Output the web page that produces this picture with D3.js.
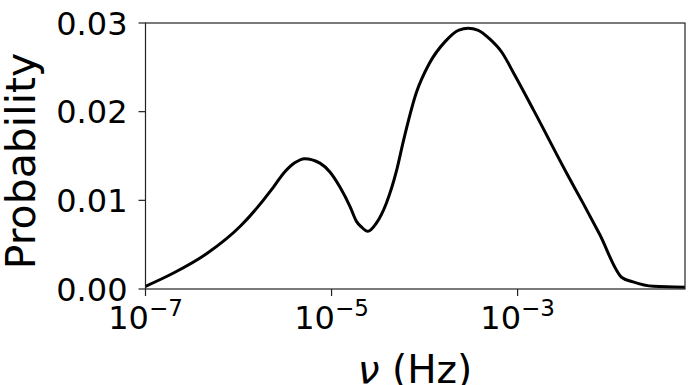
<!DOCTYPE html>
<html>
<head>
<meta charset="utf-8">
<script src="https://cdn.jsdelivr.net/npm/d3@7"></script>
<style>
  body { margin: 0; background: #fff; }
  svg { display: block; font-family: "DejaVu Sans", sans-serif; }
</style>
</head>
<body>
<svg id="chart" width="691" height="385"></svg>
<script>
// frequency (Hz) and probability
const nu = [
  1.0e-7, 2.0e-7, 4.57e-7, 1.05e-6, 2.34e-6, 3.02e-6, 3.98e-6, 5.13e-6,
  7.5e-6, 9.6e-6, 1.23e-5, 1.58e-5, 1.86e-5, 2.09e-5, 2.45e-5, 3.02e-5,
  3.89e-5, 5.01e-5, 5.89e-5, 8.13e-5, 1.12e-4, 1.66e-4, 2.34e-4, 2.95e-4,
  3.72e-4, 5.01e-4, 6.76e-4, 9.33e-4, 1.48e-3, 3.39e-3, 5.1e-3, 7.59e-3,
  1.32e-2, 1.74e-2, 2.88e-2, 6.3e-2
];
const prob = [
  0.0003, 0.0018, 0.0040, 0.0071, 0.0114, 0.0130, 0.0142, 0.0147,
  0.0142, 0.0132, 0.0115, 0.0093, 0.0076, 0.0070, 0.0065, 0.0074,
  0.0097, 0.0134, 0.0166, 0.0221, 0.0254, 0.0279, 0.0292, 0.0294,
  0.0292, 0.0282, 0.0267, 0.0241, 0.0202, 0.0130, 0.0096, 0.0062,
  0.0013, 0.0008, 0.0003, 0.0002
];
const yTicks = [0, 0.01, 0.02, 0.03];
const xTicks = [1e-7, 1e-5, 1e-3];

const svg = d3.select('#chart');
const plotL = 145.5, plotR = 685, plotT = 23, plotB = 289;

const x = d3.scaleLog().domain([1e-7, 6.3e-2]).range([plotL, plotR]);
const y = d3.scaleLinear().domain([0, 0.03]).range([plotB, plotT]);

const line = d3.line()
  .x((d, i) => x(nu[i]))
  .y(d => y(d))
  .curve(d3.curveMonotoneX);

svg.append('path')
  .datum(prob)
  .attr('d', line)
  .attr('fill', 'none')
  .attr('stroke', '#000')
  .attr('stroke-width', 3)
  .attr('stroke-linejoin', 'round');

// frame
svg.append('rect')
  .attr('x', plotL).attr('y', plotT)
  .attr('width', plotR - plotL).attr('height', plotB - plotT)
  .attr('fill', 'none')
  .attr('stroke', '#222')
  .attr('stroke-width', 1.2);

// y axis
const yAxis = svg.append('g');
yAxis.selectAll('line')
  .data(yTicks)
  .enter().append('line')
  .attr('x1', plotL - 7).attr('x2', plotL)
  .attr('y1', d => y(d)).attr('y2', d => y(d))
  .attr('stroke', '#222').attr('stroke-width', 1.2);
yAxis.selectAll('text')
  .data(yTicks)
  .enter().append('text')
  .attr('x', plotL - 18)
  .attr('y', d => y(d))
  .attr('dy', '0.36em')
  .attr('text-anchor', 'end')
  .style('font-size', '32px')
  .text(d => d3.format('.2f')(d));

// x axis
const xAxis = svg.append('g');
xAxis.selectAll('line')
  .data(xTicks)
  .enter().append('line')
  .attr('x1', d => x(d)).attr('x2', d => x(d))
  .attr('y1', plotB).attr('y2', plotB + 7)
  .attr('stroke', '#222').attr('stroke-width', 1.2);
const xt = xAxis.selectAll('text')
  .data(xTicks)
  .enter().append('text')
  .attr('x', d => x(d))
  .attr('y', 329)
  .attr('text-anchor', 'middle')
  .style('font-size', '32px');
xt.append('tspan').text('10');
xt.append('tspan')
  .attr('dy', -13)
  .style('font-size', '23px')
  .text(d => '\u2212' + Math.round(-Math.log10(d)));

// axis labels
svg.append('text')
  .attr('transform', 'translate(35, 161) rotate(-90)')
  .attr('text-anchor', 'middle')
  .style('font-size', '41px')
  .text('Probability');

const xl = svg.append('text')
  .attr('x', 415)
  .attr('y', 383)
  .attr('text-anchor', 'middle')
  .style('font-size', '39px');
xl.append('tspan').style('font-style', 'italic').text('\u03bd');
xl.append('tspan').text(' (Hz)');
</script>
</body>
</html>
